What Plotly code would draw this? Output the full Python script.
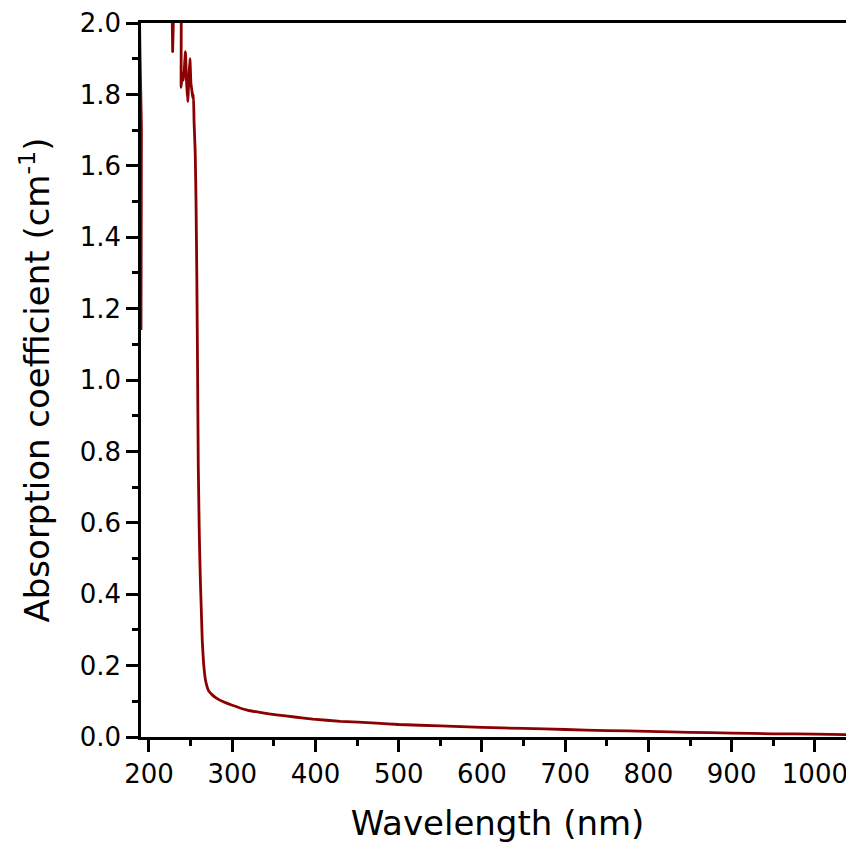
import plotly.graph_objects as go

wavelength = [190.4, 190.9, 191.4, 227.8, 228.4, 229.0, 236.8, 238.6, 240.0, 241.5,
              243.8, 245.0, 246.6, 248.0, 249.2, 250.4, 251.6, 252.6, 253.4, 254.2,
              255.5, 256.5, 257.5, 258.4, 259.2, 260.5, 261.7, 262.8, 264.0, 265.5,
              267.5, 269.5, 271.5, 276.0, 281.0, 290, 300, 317, 335, 353, 375, 397, 430,
              473, 500, 550, 600, 650, 700, 750, 800, 850, 900, 950, 1000, 1047]
absorption = [1.14, 1.7, 2.3, 2.3, 1.92, 2.3, 2.3, 1.82, 1.86, 1.84,
              1.92, 1.84, 1.78, 1.85, 1.90, 1.83, 1.81, 1.79, 1.80, 1.72,
              1.64, 1.50, 1.28, 1.02, 0.76, 0.56, 0.44, 0.36, 0.27, 0.21,
              0.165, 0.143, 0.13, 0.118, 0.109, 0.098, 0.089, 0.076, 0.068, 0.062, 0.056, 0.050, 0.044,
              0.039, 0.035, 0.031, 0.027, 0.024, 0.021, 0.018, 0.016, 0.013, 0.011, 0.009, 0.008, 0.006]

x_ticks = [200, 300, 400, 500, 600, 700, 800, 900, 1000]
y_ticks = [0.0, 0.2, 0.4, 0.6, 0.8, 1.0, 1.2, 1.4, 1.6, 1.8, 2.0]

FONT = "DejaVu Sans"

fig = go.Figure()
fig.add_trace(go.Scatter(x=wavelength, y=absorption, mode="lines", line_shape="spline",
                         line=dict(color="#8B0000", width=2.8, smoothing=0.3), showlegend=False))

fig.update_layout(
    width=846, height=835,
    margin=dict(l=133, r=0, t=15, b=106),
    plot_bgcolor="white", paper_bgcolor="white",
    font=dict(family=FONT, color="black", size=26),
)
fig.update_xaxes(
    range=[190.4, 1047], tickvals=x_ticks, ticktext=[str(v) for v in x_ticks],
    ticks="outside", ticklen=12, tickwidth=2.5, tickcolor="black",
    minor=dict(ticks="outside", ticklen=6, tickwidth=2.5, dtick=50, tick0=0, tickcolor="black"),
    showline=True, linecolor="black", linewidth=2.5, mirror=True,
    showgrid=False, zeroline=False, automargin=False, ticklabeloverflow="allow",
    tickfont=dict(size=26),
    title=dict(text="Wavelength (nm)", font=dict(size=34), standoff=26),
)
fig.update_yaxes(
    range=[0, 2.0], tickvals=y_ticks, ticktext=[f"{v:.1f}" for v in y_ticks],
    ticks="outside", ticklen=12, tickwidth=2.5, tickcolor="black",
    minor=dict(ticks="outside", ticklen=6, tickwidth=2.5, dtick=0.1, tick0=0, tickcolor="black"),
    showline=True, linecolor="black", linewidth=2.5, mirror=False,
    showgrid=False, zeroline=False, automargin=False, ticklabeloverflow="allow",
    tickfont=dict(size=26),
    title=dict(text="Absorption coefficient (cm<sup>-1</sup>)", font=dict(size=34), standoff=20),
)

fig.write_html("out.html")
